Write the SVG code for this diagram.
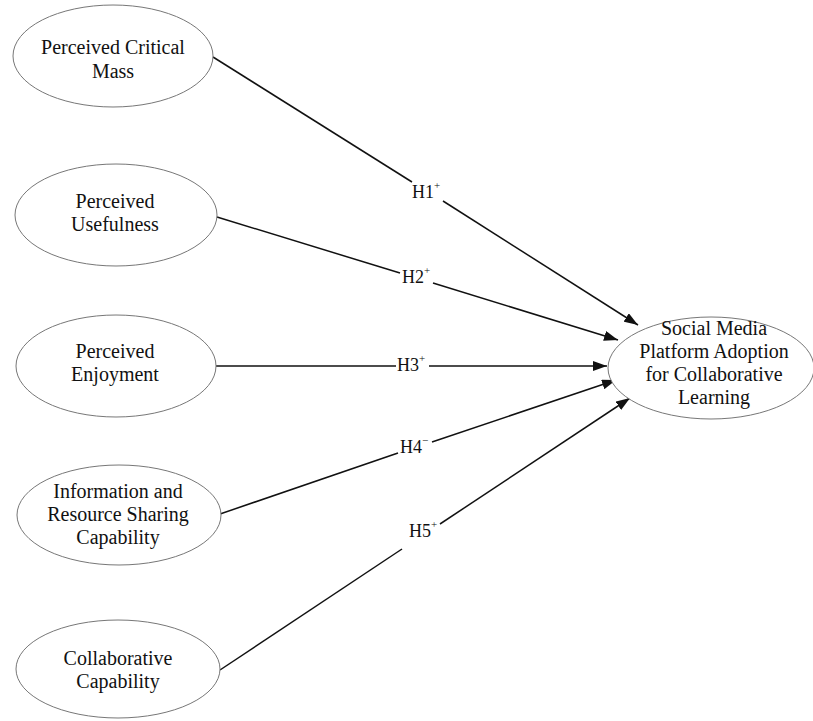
<svg xmlns="http://www.w3.org/2000/svg" width="813" height="721" viewBox="0 0 813 721">
<defs>
<style>
.node ellipse{fill:#fff;stroke:#777;stroke-width:1}
.node text{font-family:"Liberation Serif","Times New Roman",serif;font-size:20px;fill:#111;text-anchor:middle}
.lbl{font-family:"Liberation Serif","Times New Roman",serif;font-size:18px;fill:#111}
.sup{font-size:11px}
.conn line{stroke:#111;stroke-width:1.5}
</style>
<marker id="ah" viewBox="0 0 14 10" refX="14" refY="5" markerWidth="14" markerHeight="10" markerUnits="userSpaceOnUse" orient="auto">
<path d="M0,0 L14,5 L0,10 Z" fill="#111"/>
</marker>
</defs>
<rect width="813" height="721" fill="#fff"/>
<g id="connectors" class="conn">
<line x1="213" y1="57" x2="412" y2="182"/>
<line x1="443" y1="201" x2="638" y2="325" marker-end="url(#ah)"/>
<line x1="217" y1="217" x2="400" y2="273"/>
<line x1="433" y1="283" x2="618" y2="340" marker-end="url(#ah)"/>
<line x1="216" y1="366" x2="396" y2="366"/>
<line x1="429" y1="366" x2="607" y2="366" marker-end="url(#ah)"/>
<line x1="220" y1="514" x2="398" y2="453"/>
<line x1="432" y1="442" x2="616" y2="380" marker-end="url(#ah)"/>
<line x1="220" y1="670" x2="402" y2="549"/>
<line x1="440" y1="524" x2="630" y2="398" marker-end="url(#ah)"/>
<text class="lbl" x="412" y="198">H1<tspan class="sup" dy="-9">+</tspan></text>
<text class="lbl" x="402" y="283">H2<tspan class="sup" dy="-9">+</tspan></text>
<text class="lbl" x="397" y="371">H3<tspan class="sup" dy="-9">+</tspan></text>
<text class="lbl" x="400" y="453">H4<tspan class="sup" dy="-9">−</tspan></text>
<text class="lbl" x="409" y="537">H5<tspan class="sup" dy="-9">+</tspan></text>
</g>
<g id="pcm" class="node">
<ellipse cx="113" cy="56" rx="100" ry="51"/>
<text x="113" y="54">Perceived Critical</text>
<text x="113" y="78">Mass</text>
</g>
<g id="pu" class="node">
<ellipse cx="116" cy="215" rx="101" ry="51"/>
<text x="115" y="208">Perceived</text>
<text x="115" y="231">Usefulness</text>
</g>
<g id="pe" class="node">
<ellipse cx="116" cy="366" rx="100" ry="51"/>
<text x="115" y="358">Perceived</text>
<text x="115" y="381">Enjoyment</text>
</g>
<g id="irs" class="node">
<ellipse cx="119" cy="515" rx="102" ry="50"/>
<text x="118" y="498">Information and</text>
<text x="118" y="521">Resource Sharing</text>
<text x="118" y="544">Capability</text>
</g>
<g id="cc" class="node">
<ellipse cx="118" cy="669" rx="102" ry="49"/>
<text x="118" y="665">Collaborative</text>
<text x="118" y="688">Capability</text>
</g>
<g id="smp" class="node">
<ellipse cx="711" cy="368" rx="103" ry="51"/>
<text x="714" y="335">Social Media</text>
<text x="714" y="358">Platform Adoption</text>
<text x="714" y="381">for Collaborative</text>
<text x="714" y="404">Learning</text>
</g>
</svg>
